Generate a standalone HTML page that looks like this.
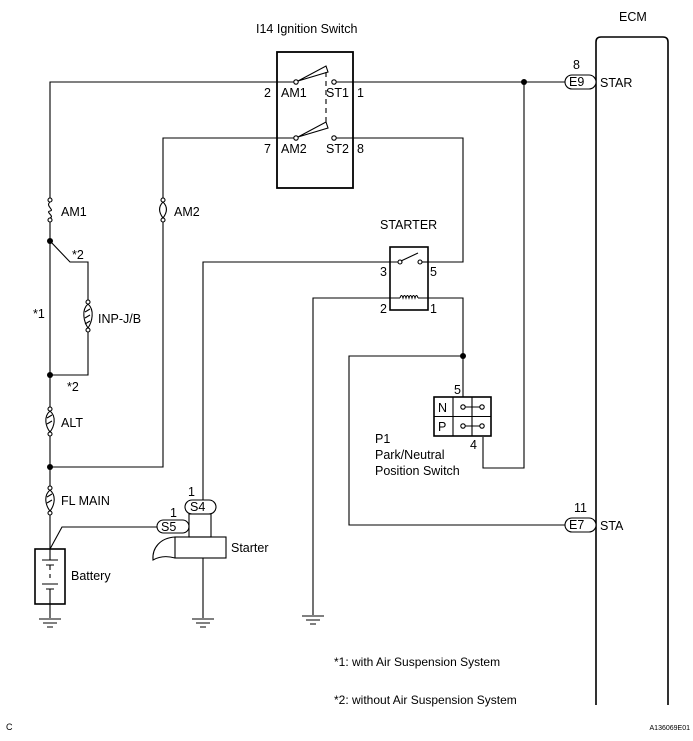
<!DOCTYPE html>
<html><head><meta charset="utf-8"><style>
html,body{margin:0;padding:0;background:#fff}
svg{display:block}
text{font-family:"Liberation Sans",Arial,sans-serif;font-size:12.5px;fill:#000}
</style></head><body>
<svg width="693" height="741" viewBox="0 0 693 741" xmlns="http://www.w3.org/2000/svg">
<g fill="none" stroke="#000" stroke-width="1.1">
<!-- ignition switch -->
<rect x="277" y="52" width="76" height="136" stroke-width="1.8"/>
<path d="M50,198 V82 H296"/>
<path d="M163,198 V138 H296"/>
<circle cx="296" cy="82" r="2.2" fill="#fff"/>
<circle cx="296" cy="138" r="2.2" fill="#fff"/>
<path d="M298,81 L326,66 L328,72 Z" fill="#fff"/>
<path d="M298,137 L326,122 L328,128 Z" fill="#fff"/>
<path d="M326,72 V122" stroke-dasharray="5,4"/>
<circle cx="334" cy="82" r="2.2" fill="#fff"/>
<circle cx="334" cy="138" r="2.2" fill="#fff"/>
<path d="M336,82 H565"/>
<path d="M336,138 H463 V262 H428"/>
<!-- ECM -->
<path d="M596,705 V42 Q596,37 601,37 H663 Q668,37 668,42 V705" stroke-width="1.6"/>
<rect x="565" y="75" width="31" height="14" rx="7" fill="#fff"/>
<rect x="565" y="518" width="31" height="14" rx="7" fill="#fff"/>
<!-- STAR junction -->
<path d="M524,82 V468 H483 V437"/>
<!-- relay -->
<rect x="390" y="247" width="38" height="63" stroke-width="1.6"/>
<path d="M203,500 V262 H398"/>
<circle cx="400" cy="262" r="2" fill="#fff"/>
<path d="M401,261 L418,253"/>
<circle cx="420" cy="262" r="2" fill="#fff"/>
<path d="M422,262 H428"/>
<path d="M313,615 V298 H400 M418,298 H463 V397"/>
<path d="M400,298 q1.5,-5 3,0 q1.5,-5 3,0 q1.5,-5 3,0 q1.5,-5 3,0 q1.5,-5 3,0 q1.5,-5 3,0"/>
<path d="M463,356 H349 V525 H565"/>
<!-- P1 -->
<rect x="434" y="397" width="57" height="39" stroke-width="1.6"/>
<path d="M434,416.5 H491 M453,397 V436 M472,397 V436"/>
<path d="M463,407 H482 M463,426 H482"/>
<circle cx="463" cy="407" r="2.2" fill="#fff"/><circle cx="482" cy="407" r="2.2" fill="#fff"/>
<circle cx="463" cy="426" r="2.2" fill="#fff"/><circle cx="482" cy="426" r="2.2" fill="#fff"/>
<!-- left bus -->
<path d="M50,222 V410 M50,433 V487 M50,513 V549"/>
<path d="M50,241 L70,262 H88 V300 M88,330 V375 H50"/>
<path d="M163,222 V467 H50"/>
<!-- fuses -->
<circle cx="50" cy="200" r="2" fill="#fff"/><circle cx="50" cy="220" r="2" fill="#fff"/>
<path d="M50,202 c-5,4 5,8 0,9 c-5,1 5,5 0,7"/>
<circle cx="163" cy="200" r="2" fill="#fff"/><circle cx="163" cy="220" r="2" fill="#fff"/>
<path d="M163,202 c-6,6 -3,12 0,16 c3,-4 6,-10 0,-16"/>
<circle cx="88" cy="302" r="2" fill="#fff"/><circle cx="88" cy="330" r="2" fill="#fff"/>
<path d="M88,304 c-7,6 -4,18 0,24 c4,-6 7,-18 0,-24 M85,312 l5,-3 M85,318 l5,-3 M85,324 l5,-3"/>
<circle cx="50" cy="409" r="2" fill="#fff"/><circle cx="50" cy="434" r="2" fill="#fff"/>
<path d="M50,411 c-7,6 -4,16 0,21 c4,-5 7,-15 0,-21 M47,418 l5,-3 M47,424 l5,-3"/>
<circle cx="50" cy="488" r="2" fill="#fff"/><circle cx="50" cy="513" r="2" fill="#fff"/>
<path d="M50,490 c-7,6 -4,16 0,21 c4,-5 7,-15 0,-21 M47,497 l5,-3 M47,503 l5,-3"/>
<!-- battery -->
<rect x="35" y="549" width="30" height="55" stroke-width="1.6"/>
<path d="M50,549 V560 M42,560 H58 M46,565 H54 M50,565 V570 M50,574 V578 M42,584 H58 M46,589 H54 M50,589 V604 M50,604 V618"/>
<path d="M50,549 L62,527 H157"/>
<!-- starter -->
<rect x="157" y="520" width="32" height="13" rx="6.5" fill="#fff"/>
<rect x="185" y="500" width="31" height="14" rx="7" fill="#fff"/>
<rect x="189" y="514" width="22" height="23"/>
<rect x="175" y="537" width="51" height="21"/>
<path d="M175,537 C160,538 152,548 153,560 C160,556 168,556 175,558"/>
<path d="M203,558 V618"/>
<!-- grounds -->
<path d="M39,619 H61 M43,623 H57 M47,627 H53"/>
<path d="M192,619 H214 M196,623 H210 M200,627 H206"/>
<path d="M302,616 H324 M306,620 H320 M310,624 H316"/>
</g>
<g fill="#000">
<circle cx="524" cy="82" r="3"/><circle cx="50" cy="241" r="3"/><circle cx="50" cy="375" r="3"/>
<circle cx="50" cy="467" r="3"/><circle cx="463" cy="356" r="3"/>
</g>
<text x="256" y="33">I14 Ignition Switch</text>
<text x="619" y="21">ECM</text>
<text x="264" y="97">2</text><text x="281" y="97">AM1</text><text x="326" y="97">ST1</text><text x="357" y="97">1</text>
<text x="264" y="153">7</text><text x="281" y="153">AM2</text><text x="326" y="153">ST2</text><text x="357" y="153">8</text>
<text x="569" y="86">E9</text><text x="573" y="69">8</text><text x="600" y="87">STAR</text>
<text x="569" y="529">E7</text><text x="574" y="512">11</text><text x="600" y="530">STA</text>
<text x="380" y="229">STARTER</text>
<text x="380" y="276">3</text><text x="430" y="276">5</text>
<text x="380" y="313">2</text><text x="430" y="313">1</text>
<text x="454" y="394">5</text><text x="470" y="449">4</text>
<text x="438" y="412">N</text><text x="438" y="431">P</text>
<text x="375" y="443">P1</text><text x="375" y="459">Park/Neutral</text><text x="375" y="475">Position Switch</text>
<text x="61" y="216">AM1</text><text x="174" y="216">AM2</text>
<text x="72" y="259">*2</text><text x="33" y="318">*1</text><text x="98" y="323">INP-J/B</text>
<text x="67" y="391">*2</text><text x="61" y="427">ALT</text><text x="61" y="505">FL MAIN</text>
<text x="71" y="580">Battery</text>
<text x="161" y="531">S5</text><text x="190" y="511">S4</text>
<text x="170" y="517">1</text><text x="188" y="496">1</text>
<text x="231" y="552">Starter</text>
<text x="334" y="666" style="font-size:12px">*1: with Air Suspension System</text>
<text x="334" y="704" style="font-size:12px">*2: without Air Suspension System</text>
<text x="6" y="730" style="font-size:9px">C</text>
<text x="690" y="730" text-anchor="end" style="font-size:7px">A136069E01</text>
</svg>
</body></html>
